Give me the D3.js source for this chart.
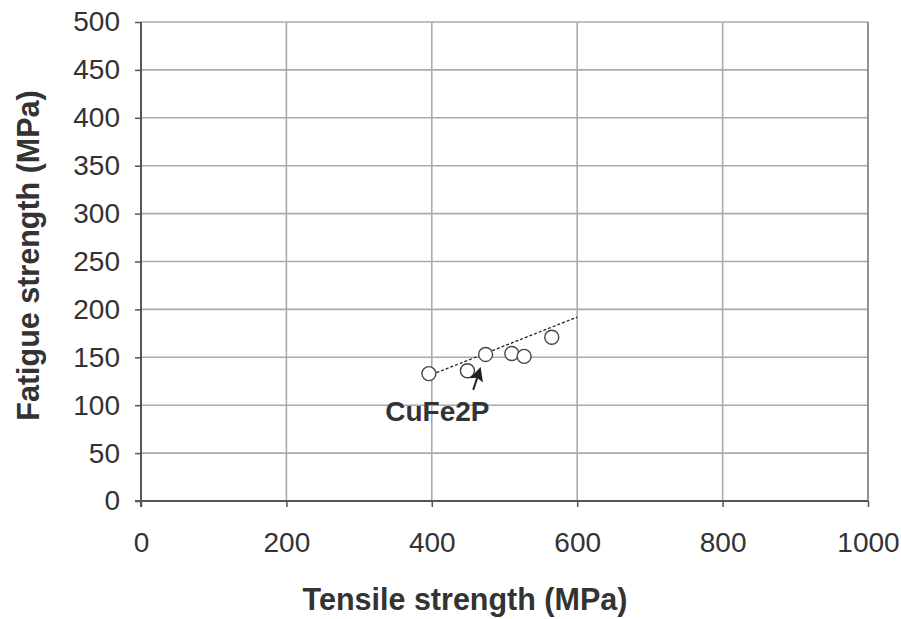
<!DOCTYPE html>
<html>
<head>
<meta charset="utf-8">
<script src="https://cdn.jsdelivr.net/npm/d3@7"></script>
<style>
  body { margin: 0; background: #fff; }
  text { font-family: "Liberation Sans", Arial, sans-serif; fill: #333; }
</style>
</head>
<body>
<svg id="chart" width="901" height="619"></svg>
<script>
// data
const tensile = [396, 449, 474, 510, 527, 565];
const fatigue = [133, 136, 153, 154, 151, 171];
const trendX = [400, 600];
const trendY = [132, 192];
const xTicks = [0, 200, 400, 600, 800, 1000];
const yTicks = [0, 50, 100, 150, 200, 250, 300, 350, 400, 450, 500];
const label = { text: "CuFe2P", x: 336, y: 83, arrowFrom: [457, 116], arrowTo: [466, 137] };

const W = 901, H = 619;
const M = { top: 22, right: 33, bottom: 118, left: 141 };

const SVG = d3.select("#chart");
const X = d3.scaleLinear().domain([0, 1000]).range([M.left, W - M.right]);
const Y = d3.scaleLinear().domain([0, 500]).range([H - M.bottom, M.top]);

// grid
SVG.append("g")
  .selectAll("line")
  .data(yTicks.slice(1))
  .join("line")
  .attr("x1", X(0)).attr("x2", X(1000))
  .attr("y1", d => Y(d)).attr("y2", d => Y(d))
  .attr("stroke", "#aaa").attr("stroke-width", 1.6);
SVG.append("g")
  .selectAll("line")
  .data(xTicks.slice(1))
  .join("line")
  .attr("x1", d => X(d)).attr("x2", d => X(d))
  .attr("y1", Y(0)).attr("y2", Y(500))
  .attr("stroke", d => d === 1000 ? "#777" : "#aaa").attr("stroke-width", 1.6);

const Xgroup = g => g
  .attr("transform", `translate(0,${Y(0)})`)
  .call(d3.axisBottom(X).tickValues(xTicks).tickSize(6).tickPadding(25).tickFormat(d3.format("d")))
  .call(g => g.select(".domain").attr("stroke", "#555").attr("stroke-width", 2).attr("d", `M${X(0) - 6},0H${X(1000)}`))
  .call(g => g.selectAll(".tick line").attr("stroke", "#555").attr("stroke-width", 1.5))
  .call(g => g.selectAll(".tick text").style("font-size", "28px").attr("fill", "#333"));

const Ygroup = g => g
  .attr("transform", `translate(${X(0)},0)`)
  .call(d3.axisLeft(Y).tickValues(yTicks).tickSize(6).tickPadding(15))
  .call(g => g.select(".domain").attr("stroke", "#555").attr("stroke-width", 2).attr("d", `M0,${Y(500)}V${Y(0) + 6}`))
  .call(g => g.selectAll(".tick line").attr("stroke", "#555").attr("stroke-width", 1.5))
  .call(g => g.selectAll(".tick text").style("font-size", "28px").attr("fill", "#333"));

SVG.append("g").call(Xgroup);
SVG.append("g").call(Ygroup);

// trend line
SVG.append("line")
  .attr("x1", X(trendX[0])).attr("y1", Y(trendY[0]))
  .attr("x2", X(trendX[1])).attr("y2", Y(trendY[1]))
  .attr("stroke", "#222").attr("stroke-width", 1.3).attr("stroke-dasharray", "3,2");

// points
SVG.append("g")
  .selectAll("circle")
  .data(tensile)
  .join("circle")
  .attr("cx", d => X(d))
  .attr("cy", (d, i) => Y(fatigue[i]))
  .attr("r", 7)
  .attr("fill", "#fff")
  .attr("stroke", "#444")
  .attr("stroke-width", 1.4);

// annotation arrow
SVG.append("defs").append("marker")
  .attr("id", "head").attr("viewBox", "0 0 10 10").attr("refX", 8).attr("refY", 5)
  .attr("markerWidth", 7).attr("markerHeight", 7).attr("markerUnits", "strokeWidth").attr("orient", "auto")
  .append("path").attr("d", "M0,0L10,5L0,10L2,5Z").attr("fill", "#222");
SVG.append("line")
  .attr("x1", X(label.arrowFrom[0])).attr("y1", Y(label.arrowFrom[1]))
  .attr("x2", X(label.arrowTo[0])).attr("y2", Y(label.arrowTo[1]))
  .attr("stroke", "#222").attr("stroke-width", 2).attr("marker-end", "url(#head)");
SVG.append("text")
  .attr("x", X(label.x)).attr("y", Y(label.y))
  .style("font-size", "28px").style("font-weight", "bold")
  .text(label.text);

// axis titles
SVG.append("text")
  .attr("x", 465).attr("y", 610)
  .attr("text-anchor", "middle")
  .style("font-size", "30.5px").style("font-weight", "bold")
  .text("Tensile strength (MPa)");
SVG.append("text")
  .attr("transform", `translate(39,${(Y(0) + Y(500)) / 2 - 6}) rotate(-90)`)
  .attr("text-anchor", "middle")
  .style("font-size", "30.5px").style("font-weight", "bold")
  .text("Fatigue strength (MPa)");
</script>
</body>
</html>
